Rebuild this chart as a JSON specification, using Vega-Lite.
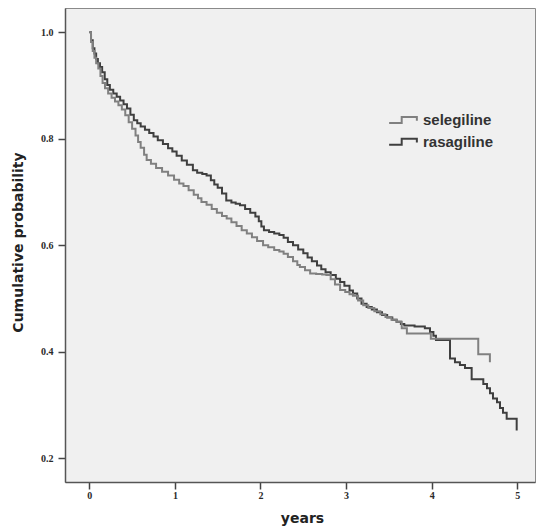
{
  "$schema": "https://vega.github.io/schema/vega-lite/v6.json",
  "width": 470,
  "height": 474,
  "autosize": "none",
  "padding": {"left": 65, "top": 8, "right": 4, "bottom": 48},
  "background": "white",
  "config": {
    "view": {"fill": "#f0f0f0", "stroke": "#8a8a8a", "strokeWidth": 1},
    "axis": {
      "grid": false,
      "domainColor": "#555555",
      "domainWidth": 1.5,
      "tickColor": "#444444",
      "tickWidth": 1.5,
      "tickSize": 7,
      "labelFont": "Liberation Serif",
      "labelFontSize": 10,
      "labelFontWeight": "bold",
      "labelColor": "#2a2a2a",
      "titleFont": "DejaVu Sans",
      "titleFontSize": 14,
      "titleFontWeight": "bold",
      "titleColor": "#222222"
    }
  },
  "data": {
    "values": [
      {"t": 0.00, "p": 1.000, "drug": "rasagiline"},
      {"t": 0.02, "p": 0.985, "drug": "rasagiline"},
      {"t": 0.04, "p": 0.970, "drug": "rasagiline"},
      {"t": 0.06, "p": 0.960, "drug": "rasagiline"},
      {"t": 0.08, "p": 0.950, "drug": "rasagiline"},
      {"t": 0.10, "p": 0.942, "drug": "rasagiline"},
      {"t": 0.125, "p": 0.935, "drug": "rasagiline"},
      {"t": 0.15, "p": 0.925, "drug": "rasagiline"},
      {"t": 0.18, "p": 0.912, "drug": "rasagiline"},
      {"t": 0.21, "p": 0.901, "drug": "rasagiline"},
      {"t": 0.24, "p": 0.892, "drug": "rasagiline"},
      {"t": 0.28, "p": 0.885, "drug": "rasagiline"},
      {"t": 0.32, "p": 0.879, "drug": "rasagiline"},
      {"t": 0.36, "p": 0.872, "drug": "rasagiline"},
      {"t": 0.40, "p": 0.865, "drug": "rasagiline"},
      {"t": 0.44, "p": 0.857, "drug": "rasagiline"},
      {"t": 0.48, "p": 0.845, "drug": "rasagiline"},
      {"t": 0.52, "p": 0.835, "drug": "rasagiline"},
      {"t": 0.56, "p": 0.829, "drug": "rasagiline"},
      {"t": 0.60, "p": 0.823, "drug": "rasagiline"},
      {"t": 0.65, "p": 0.817, "drug": "rasagiline"},
      {"t": 0.70, "p": 0.811, "drug": "rasagiline"},
      {"t": 0.75, "p": 0.804, "drug": "rasagiline"},
      {"t": 0.80, "p": 0.797, "drug": "rasagiline"},
      {"t": 0.86, "p": 0.790, "drug": "rasagiline"},
      {"t": 0.92, "p": 0.782, "drug": "rasagiline"},
      {"t": 0.97, "p": 0.776, "drug": "rasagiline"},
      {"t": 1.02, "p": 0.768, "drug": "rasagiline"},
      {"t": 1.08, "p": 0.759, "drug": "rasagiline"},
      {"t": 1.14, "p": 0.751, "drug": "rasagiline"},
      {"t": 1.21, "p": 0.741, "drug": "rasagiline"},
      {"t": 1.26, "p": 0.736, "drug": "rasagiline"},
      {"t": 1.32, "p": 0.734, "drug": "rasagiline"},
      {"t": 1.37, "p": 0.731, "drug": "rasagiline"},
      {"t": 1.42, "p": 0.722, "drug": "rasagiline"},
      {"t": 1.46, "p": 0.714, "drug": "rasagiline"},
      {"t": 1.50, "p": 0.708, "drug": "rasagiline"},
      {"t": 1.55, "p": 0.697, "drug": "rasagiline"},
      {"t": 1.60, "p": 0.684, "drug": "rasagiline"},
      {"t": 1.66, "p": 0.680, "drug": "rasagiline"},
      {"t": 1.71, "p": 0.678, "drug": "rasagiline"},
      {"t": 1.76, "p": 0.675, "drug": "rasagiline"},
      {"t": 1.82, "p": 0.668, "drug": "rasagiline"},
      {"t": 1.88, "p": 0.661, "drug": "rasagiline"},
      {"t": 1.94, "p": 0.654, "drug": "rasagiline"},
      {"t": 1.98, "p": 0.645, "drug": "rasagiline"},
      {"t": 2.01, "p": 0.635, "drug": "rasagiline"},
      {"t": 2.04, "p": 0.628, "drug": "rasagiline"},
      {"t": 2.10, "p": 0.625, "drug": "rasagiline"},
      {"t": 2.16, "p": 0.622, "drug": "rasagiline"},
      {"t": 2.22, "p": 0.619, "drug": "rasagiline"},
      {"t": 2.27, "p": 0.614, "drug": "rasagiline"},
      {"t": 2.32, "p": 0.606, "drug": "rasagiline"},
      {"t": 2.38, "p": 0.600, "drug": "rasagiline"},
      {"t": 2.44, "p": 0.592, "drug": "rasagiline"},
      {"t": 2.50, "p": 0.585, "drug": "rasagiline"},
      {"t": 2.55, "p": 0.577, "drug": "rasagiline"},
      {"t": 2.60, "p": 0.570, "drug": "rasagiline"},
      {"t": 2.66, "p": 0.562, "drug": "rasagiline"},
      {"t": 2.71, "p": 0.555, "drug": "rasagiline"},
      {"t": 2.76, "p": 0.549, "drug": "rasagiline"},
      {"t": 2.82, "p": 0.544, "drug": "rasagiline"},
      {"t": 2.88, "p": 0.537, "drug": "rasagiline"},
      {"t": 2.93, "p": 0.531, "drug": "rasagiline"},
      {"t": 2.98, "p": 0.524, "drug": "rasagiline"},
      {"t": 3.04, "p": 0.515, "drug": "rasagiline"},
      {"t": 3.08, "p": 0.509, "drug": "rasagiline"},
      {"t": 3.13, "p": 0.500, "drug": "rasagiline"},
      {"t": 3.18, "p": 0.490, "drug": "rasagiline"},
      {"t": 3.24, "p": 0.484, "drug": "rasagiline"},
      {"t": 3.30, "p": 0.479, "drug": "rasagiline"},
      {"t": 3.36, "p": 0.474, "drug": "rasagiline"},
      {"t": 3.42, "p": 0.469, "drug": "rasagiline"},
      {"t": 3.48, "p": 0.464, "drug": "rasagiline"},
      {"t": 3.54, "p": 0.460, "drug": "rasagiline"},
      {"t": 3.59, "p": 0.456, "drug": "rasagiline"},
      {"t": 3.64, "p": 0.452, "drug": "rasagiline"},
      {"t": 3.68, "p": 0.449, "drug": "rasagiline"},
      {"t": 3.80, "p": 0.447, "drug": "rasagiline"},
      {"t": 3.92, "p": 0.444, "drug": "rasagiline"},
      {"t": 3.98, "p": 0.437, "drug": "rasagiline"},
      {"t": 4.02, "p": 0.430, "drug": "rasagiline"},
      {"t": 4.05, "p": 0.422, "drug": "rasagiline"},
      {"t": 4.214, "p": 0.387, "drug": "rasagiline"},
      {"t": 4.272, "p": 0.380, "drug": "rasagiline"},
      {"t": 4.33, "p": 0.375, "drug": "rasagiline"},
      {"t": 4.389, "p": 0.369, "drug": "rasagiline"},
      {"t": 4.467, "p": 0.348, "drug": "rasagiline"},
      {"t": 4.603, "p": 0.339, "drug": "rasagiline"},
      {"t": 4.646, "p": 0.331, "drug": "rasagiline"},
      {"t": 4.681, "p": 0.322, "drug": "rasagiline"},
      {"t": 4.716, "p": 0.312, "drug": "rasagiline"},
      {"t": 4.763, "p": 0.305, "drug": "rasagiline"},
      {"t": 4.798, "p": 0.294, "drug": "rasagiline"},
      {"t": 4.833, "p": 0.285, "drug": "rasagiline"},
      {"t": 4.876, "p": 0.274, "drug": "rasagiline"},
      {"t": 4.993, "p": 0.252, "drug": "rasagiline"},
      {"t": 0.00, "p": 1.000, "drug": "selegiline"},
      {"t": 0.02, "p": 0.982, "drug": "selegiline"},
      {"t": 0.04, "p": 0.965, "drug": "selegiline"},
      {"t": 0.06, "p": 0.952, "drug": "selegiline"},
      {"t": 0.08, "p": 0.942, "drug": "selegiline"},
      {"t": 0.105, "p": 0.932, "drug": "selegiline"},
      {"t": 0.13, "p": 0.918, "drug": "selegiline"},
      {"t": 0.155, "p": 0.905, "drug": "selegiline"},
      {"t": 0.183, "p": 0.895, "drug": "selegiline"},
      {"t": 0.22, "p": 0.885, "drug": "selegiline"},
      {"t": 0.26, "p": 0.877, "drug": "selegiline"},
      {"t": 0.30, "p": 0.870, "drug": "selegiline"},
      {"t": 0.34, "p": 0.863, "drug": "selegiline"},
      {"t": 0.38, "p": 0.855, "drug": "selegiline"},
      {"t": 0.42, "p": 0.844, "drug": "selegiline"},
      {"t": 0.46, "p": 0.831, "drug": "selegiline"},
      {"t": 0.50, "p": 0.819, "drug": "selegiline"},
      {"t": 0.54, "p": 0.806, "drug": "selegiline"},
      {"t": 0.57, "p": 0.794, "drug": "selegiline"},
      {"t": 0.60, "p": 0.783, "drug": "selegiline"},
      {"t": 0.64, "p": 0.770, "drug": "selegiline"},
      {"t": 0.67, "p": 0.760, "drug": "selegiline"},
      {"t": 0.72, "p": 0.753, "drug": "selegiline"},
      {"t": 0.78, "p": 0.745, "drug": "selegiline"},
      {"t": 0.85, "p": 0.738, "drug": "selegiline"},
      {"t": 0.92, "p": 0.731, "drug": "selegiline"},
      {"t": 0.99, "p": 0.723, "drug": "selegiline"},
      {"t": 1.05, "p": 0.716, "drug": "selegiline"},
      {"t": 1.10, "p": 0.711, "drug": "selegiline"},
      {"t": 1.16, "p": 0.703, "drug": "selegiline"},
      {"t": 1.22, "p": 0.695, "drug": "selegiline"},
      {"t": 1.27, "p": 0.688, "drug": "selegiline"},
      {"t": 1.31, "p": 0.681, "drug": "selegiline"},
      {"t": 1.37, "p": 0.676, "drug": "selegiline"},
      {"t": 1.43, "p": 0.668, "drug": "selegiline"},
      {"t": 1.49, "p": 0.661, "drug": "selegiline"},
      {"t": 1.55, "p": 0.655, "drug": "selegiline"},
      {"t": 1.605, "p": 0.650, "drug": "selegiline"},
      {"t": 1.66, "p": 0.643, "drug": "selegiline"},
      {"t": 1.72, "p": 0.636, "drug": "selegiline"},
      {"t": 1.78, "p": 0.628, "drug": "selegiline"},
      {"t": 1.84, "p": 0.622, "drug": "selegiline"},
      {"t": 1.90, "p": 0.615, "drug": "selegiline"},
      {"t": 1.96, "p": 0.608, "drug": "selegiline"},
      {"t": 2.03, "p": 0.600, "drug": "selegiline"},
      {"t": 2.09, "p": 0.596, "drug": "selegiline"},
      {"t": 2.16, "p": 0.591, "drug": "selegiline"},
      {"t": 2.22, "p": 0.588, "drug": "selegiline"},
      {"t": 2.27, "p": 0.584, "drug": "selegiline"},
      {"t": 2.32, "p": 0.578, "drug": "selegiline"},
      {"t": 2.38, "p": 0.570, "drug": "selegiline"},
      {"t": 2.43, "p": 0.563, "drug": "selegiline"},
      {"t": 2.46, "p": 0.559, "drug": "selegiline"},
      {"t": 2.52, "p": 0.553, "drug": "selegiline"},
      {"t": 2.58, "p": 0.547, "drug": "selegiline"},
      {"t": 2.65, "p": 0.546, "drug": "selegiline"},
      {"t": 2.72, "p": 0.545, "drug": "selegiline"},
      {"t": 2.77, "p": 0.544, "drug": "selegiline"},
      {"t": 2.82, "p": 0.536, "drug": "selegiline"},
      {"t": 2.87, "p": 0.526, "drug": "selegiline"},
      {"t": 2.93, "p": 0.516, "drug": "selegiline"},
      {"t": 2.99, "p": 0.512, "drug": "selegiline"},
      {"t": 3.04, "p": 0.508, "drug": "selegiline"},
      {"t": 3.08, "p": 0.505, "drug": "selegiline"},
      {"t": 3.14, "p": 0.496, "drug": "selegiline"},
      {"t": 3.20, "p": 0.487, "drug": "selegiline"},
      {"t": 3.26, "p": 0.482, "drug": "selegiline"},
      {"t": 3.33, "p": 0.476, "drug": "selegiline"},
      {"t": 3.40, "p": 0.470, "drug": "selegiline"},
      {"t": 3.46, "p": 0.465, "drug": "selegiline"},
      {"t": 3.53, "p": 0.460, "drug": "selegiline"},
      {"t": 3.59, "p": 0.456, "drug": "selegiline"},
      {"t": 3.65, "p": 0.444, "drug": "selegiline"},
      {"t": 3.71, "p": 0.434, "drug": "selegiline"},
      {"t": 3.99, "p": 0.424, "drug": "selegiline"},
      {"t": 4.544, "p": 0.395, "drug": "selegiline"},
      {"t": 4.68, "p": 0.380, "drug": "selegiline"}
    ]
  },
  "mark": {"type": "line", "interpolate": "step-after", "strokeWidth": 2, "clip": true},
  "encoding": {
    "x": {
      "field": "t",
      "type": "quantitative",
      "scale": {"domain": [-0.284, 5.207], "nice": false, "zero": false},
      "axis": {
        "values": [0, 1, 2, 3, 4, 5],
        "format": "d",
        "labelPadding": 1,
        "title": "years",
        "titleX": 237,
        "titleY": 36,
        "titleAlign": "center",
        "titleBaseline": "middle"
      }
    },
    "y": {
      "field": "p",
      "type": "quantitative",
      "scale": {"domain": [0.155, 1.0457], "nice": false, "zero": false},
      "axis": {
        "values": [0.2, 0.4, 0.6, 0.8, 1.0],
        "format": ".1f",
        "labelPadding": 5,
        "title": "Cumulative probability",
        "titleX": -47,
        "titleY": 234,
        "titleAngle": -90,
        "titleAlign": "center",
        "titleBaseline": "middle"
      }
    },
    "color": {
      "field": "drug",
      "type": "nominal",
      "scale": {"domain": ["selegiline", "rasagiline"], "range": ["#808080", "#3f3f3f"]},
      "legend": {
        "title": null,
        "orient": "none",
        "legendX": 328,
        "legendY": 102,
        "padding": 0,
        "symbolType": "M-1.6,0.35H-0.15V-0.35H1.6V0.1",
        "symbolSize": 300,
        "symbolStrokeWidth": 2,
        "labelOffset": 10,
        "labelFont": "Liberation Sans",
        "labelFontSize": 15,
        "labelFontWeight": "bold",
        "labelColor": "#333333",
        "rowPadding": 3.7
      }
    }
  }
}
